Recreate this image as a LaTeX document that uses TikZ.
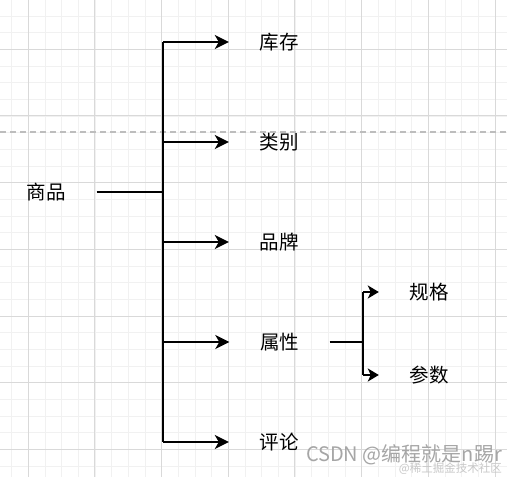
\documentclass[tikz,border=0pt]{standalone}
\usepackage{fontspec}
\setmainfont{Noto Sans CJK SC}
\usepackage{tikz}
\usetikzlibrary{arrows.meta}
\definecolor{minorgrid}{HTML}{F1F1F1}
\definecolor{majorgrid}{HTML}{D9D9D9}
\definecolor{dashgray}{HTML}{BDBDBD}
\definecolor{wmgray}{HTML}{A6A6A6}
\definecolor{wmlight}{HTML}{C8C8C8}
\tikzset{
	lbl/.style={minimum width=100pt, inner sep=0pt, font=\fontsize{19.5}{23}\selectfont},
	link/.style={line width=2pt},
	bigarrow/.style={link, -{Stealth[length=14pt, width=14pt, inset=4pt]}},
	smallarrow/.style={link, -{Stealth[length=11pt, width=13pt, inset=3pt]}}
}

\begin{document}
\begin{tikzpicture}[x=1pt, y=-1pt]
		\useasboundingbox (0,0) rectangle (507,477);
		\fill[white] (0,0) rectangle (507,477);
		\foreach \i in {0,...,29} \draw[minorgrid, line width=1pt] ({11.67+16.667*\i},0) -- ++(0,477);
		\foreach \i in {0,...,28} \draw[minorgrid, line width=1pt] (0,{16+16.667*\i}) -- ++(507,0);
		\foreach \i in {0,...,7} \draw[majorgrid, line width=1pt] ({28.33+66.667*\i},0) -- ++(0,477);
		\foreach \i in {0,...,6} \draw[majorgrid, line width=1pt] (0,{49.33+66.667*\i}) -- ++(507,0);
		\draw[dashgray, line width=1.2pt, dash pattern=on 6pt off 4pt] (0,132) -- (507,132);
		% labels
		\node[lbl] (sp) at (46.5,192) {商品};
		\node[lbl] (kc) at (279,42) {库存};
		\node[lbl] (lb) at (279,142) {类别};
		\node[lbl] (pp) at (279,242) {品牌};
		\node[lbl] (sx) at (279.5,342) {属性};
		\node[lbl] (pl) at (279,442) {评论};
		\node[lbl] (gg) at (429,292) {规格};
		\node[lbl] (cs) at (429,375) {参数};
		\coordinate (fork) at (163,192);
		\coordinate (subfork) at (363,342);
		% connectors
		\draw[link] (sp.east) -- (fork);
		\draw[link] (fork |- kc) -- (fork |- pl);
		\foreach \n in {kc,lb,pp,sx,pl} \draw[bigarrow] (fork |- \n) -- (\n.west);
		\draw[link] (sx.east) -- (subfork);
		\draw[link] (subfork |- gg) -- (subfork |- cs);
		\foreach \n in {gg,cs} \draw[smallarrow] (subfork |- \n) -- (\n.west);
		% watermark
		\node[anchor=east, inner sep=0pt, wmgray, font=\fontsize{20}{23}\selectfont] (wm) at (502,455) {CSDN @编程就是n踢r};
		\node[anchor=east, inner sep=0pt, wmlight, font=\fontsize{11.5}{13}\selectfont] (wm2) at (502,469) {@稀土掘金技术社区};
	\end{tikzpicture}
\end{document}
